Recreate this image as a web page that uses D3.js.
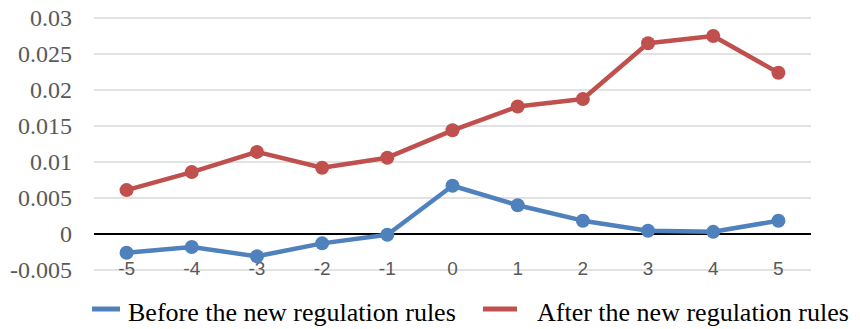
<!DOCTYPE html>
<html lang="en">
<head>
    <meta charset="UTF-8">
    <title>Regulation rules line chart</title>
    <script src="https://d3js.org/d3.v7.min.js"></script>
    <style>
        body { margin: 0; background: #fff; }
    </style>
</head>
<body>
    <div id="chart"></div>

    <script>
        // Chart data
        const categories = ["-5", "-4", "-3", "-2", "-1", "0", "1", "2", "3", "4", "5"];
        const beforeValues = [-0.0026, -0.0018, -0.0031, -0.0013, -0.0001, 0.0067, 0.0040, 0.00185, 0.00046, 0.0003, 0.00185];
        const afterValues = [0.0061, 0.0086, 0.0114, 0.0092, 0.0106, 0.0144, 0.0177, 0.01875, 0.0265, 0.0275, 0.0224];
        const yTicks = [-0.005, 0, 0.005, 0.01, 0.015, 0.02, 0.025, 0.03];
        const seriesNames = ["Before the new regulation rules", "After the new regulation rules"];

        const width = 860;
        const height = 329;
        const colors = ["#4f81bd", "#c0504d"];

        const svg = d3.select("#chart")
            .append("svg")
            .attr("width", width)
            .attr("height", height);

        // plot area edges
        const plotLeft = 94, plotRight = 811, plotTop = 18, plotBottom = 270;

        const x = d3.scaleBand()
            .domain(categories)
            .range([plotLeft, plotRight]);

        const y = d3.scaleLinear()
            .domain([-0.005, 0.03])
            .range([plotBottom, plotTop]);

        // gridlines
        svg.append("g")
            .selectAll("line")
            .data(yTicks)
            .join("line")
            .attr("x1", plotLeft)
            .attr("x2", plotRight)
            .attr("y1", d => y(d))
            .attr("y2", d => y(d))
            .style("stroke", "#d9d9d9")
            .style("stroke-width", 1.5);

        // y axis labels
        svg.append("g")
            .selectAll("text")
            .data(yTicks)
            .join("text")
            .attr("x", 72)
            .attr("y", d => y(d))
            .attr("dy", "0.33em")
            .attr("text-anchor", "end")
            .style("font-family", "'Liberation Serif', serif")
            .style("font-size", "24px")
            .style("fill", "#595959")
            .text(d => d === 0 ? "0" : String(+d.toFixed(3)));

        // zero line
        svg.append("line")
            .attr("x1", plotLeft)
            .attr("x2", plotRight)
            .attr("y1", y(0))
            .attr("y2", y(0))
            .style("stroke", "#000")
            .style("stroke-width", 2);

        // x labels
        svg.append("g")
            .selectAll("text")
            .data(categories)
            .join("text")
            .attr("x", d => x(d) + x.bandwidth() / 2)
            .attr("y", 268)
            .attr("dy", "0.35em")
            .attr("text-anchor", "middle")
            .style("font-family", "'Liberation Sans', Arial, sans-serif")
            .style("font-size", "19px")
            .style("fill", "#595959")
            .text(d => d);

        const line = d3.line()
            .x((d, i) => x(categories[i]) + x.bandwidth() / 2)
            .y(d => y(d));

        [beforeValues, afterValues].forEach((vals, s) => {
            svg.append("path")
                .datum(vals)
                .attr("d", line)
                .style("fill", "none")
                .style("stroke", colors[s])
                .style("stroke-width", 4.5)
                .style("stroke-linejoin", "round");

            svg.append("g")
                .selectAll("circle")
                .data(vals)
                .join("circle")
                .attr("cx", (d, i) => x(categories[i]) + x.bandwidth() / 2)
                .attr("cy", d => y(d))
                .attr("r", 7)
                .style("fill", colors[s]);
        });

        // legend
        const legendItems = [
            { name: seriesNames[0], x: 92, w: 28, tx: 128 },
            { name: seriesNames[1], x: 483, w: 34, tx: 537 }
        ];
        const legend = svg.append("g");
        legendItems.forEach((d, i) => {
            legend.append("line")
                .attr("x1", d.x)
                .attr("x2", d.x + d.w)
                .attr("y1", 309)
                .attr("y2", 309)
                .style("stroke", colors[i])
                .style("stroke-width", 5);
            legend.append("text")
                .attr("x", d.tx)
                .attr("y", 321)
                .style("font-family", "'Liberation Serif', serif")
                .style("font-size", "26px")
                .style("fill", "#000")
                .text(d.name);
        });
    </script>
</body>
</html>
